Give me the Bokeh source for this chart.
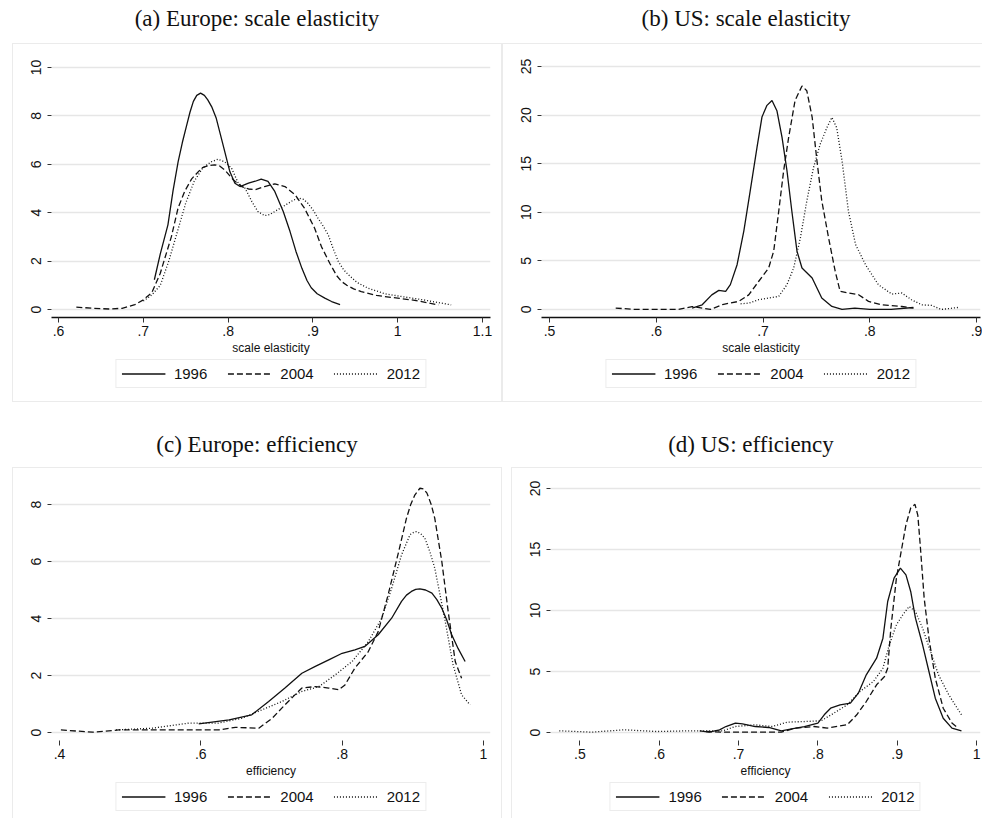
from bokeh.plotting import figure
from bokeh.models import Legend, LegendItem, FixedTicker, Range1d, Div
from bokeh.layouts import column, row
from bokeh.embed import file_html
from bokeh.resources import INLINE

years = ["1996", "2004", "2012"]

# ---------------- (a) Europe: scale elasticity ----------------
a_x_1996 = [0.713, 0.720, 0.729, 0.735, 0.741, 0.746, 0.751, 0.755, 0.759, 0.763, 0.7675, 0.772, 0.776, 0.781,
            0.786, 0.794, 0.802, 0.808, 0.814, 0.824, 0.832, 0.839, 0.847, 0.855, 0.865, 0.873, 0.880,
            0.887, 0.893, 0.898, 0.905, 0.914, 0.922, 0.932]
a_y_1996 = [1.23, 2.3, 3.5, 4.9, 6.1, 6.9, 7.6, 8.15, 8.6, 8.85, 8.94, 8.85, 8.66, 8.35,
            7.9, 6.8, 5.7, 5.22, 5.08, 5.22, 5.3, 5.39, 5.29, 4.88, 4.05, 3.22, 2.4,
            1.7, 1.2, 0.9, 0.65, 0.47, 0.33, 0.2]
a_x_2004 = [0.621, 0.64, 0.66, 0.675, 0.69, 0.70, 0.71, 0.72, 0.733, 0.741, 0.749, 0.757, 0.769, 0.777,
            0.784, 0.790, 0.796, 0.806, 0.816, 0.824, 0.832, 0.843, 0.855, 0.867, 0.879, 0.890, 0.902,
            0.910, 0.920, 0.928, 0.934, 0.940, 0.948, 0.957, 0.975, 1.0, 1.02, 1.048]
a_y_2004 = [0.1, 0.05, 0.02, 0.05, 0.2, 0.4, 0.7, 1.5, 3.0, 4.2, 4.9, 5.4, 5.85, 5.95,
            5.98, 5.93, 5.77, 5.36, 5.08, 4.98, 4.95, 5.08, 5.19, 5.08, 4.74, 4.19, 3.36,
            2.6, 1.9, 1.4, 1.15, 1.0, 0.85, 0.74, 0.58, 0.47, 0.38, 0.19]
a_x_2012 = [0.70, 0.71, 0.72, 0.73, 0.74, 0.75, 0.76, 0.77, 0.78, 0.788, 0.796, 0.804, 0.812, 0.820, 0.828,
            0.835, 0.843, 0.849, 0.855, 0.863, 0.871, 0.877, 0.883, 0.889, 0.894, 0.900, 0.906, 0.912,
            0.918, 0.924, 0.930, 0.936, 0.942, 0.952, 0.965, 0.985, 1.004, 1.03, 1.063]
a_y_2012 = [0.35, 0.6, 1.0, 2.0, 3.2, 4.4, 5.3, 5.85, 6.1, 6.21, 6.1, 5.84, 5.22, 5.01, 4.46,
            4.05, 3.88, 3.92, 4.05, 4.22, 4.39, 4.52, 4.6, 4.55, 4.39, 4.12, 3.77, 3.45,
            3.09, 2.5, 1.98, 1.65, 1.43, 1.12, 0.88, 0.65, 0.54, 0.4, 0.19]
a_xticks = [0.6, 0.7, 0.8, 0.9, 1.0, 1.1]
a_xlabels = [".6", ".7", ".8", ".9", "1", "1.1"]
a_yticks = [0, 2, 4, 6, 8, 10]
a_ylabels = ["0", "2", "4", "6", "8", "10"]

# ---------------- (b) US: scale elasticity ----------------
b_x_1996 = [0.6336, 0.643, 0.652, 0.6586, 0.665, 0.6694, 0.6757, 0.682, 0.688, 0.6944, 0.699, 0.7037,
            0.7084, 0.713, 0.7178, 0.7224, 0.727, 0.7318, 0.7365, 0.746, 0.755, 0.7645, 0.774, 0.786,
            0.80, 0.82, 0.8408]
b_y_1996 = [0.14, 0.48, 1.5, 1.96, 1.86, 2.55, 4.6, 8.06, 12.2, 16.7, 19.8, 21.0,
            21.5, 20.45, 17.7, 14.3, 10.1, 6.0, 4.27, 3.24, 1.17, 0.31, 0.0, 0.14,
            0.0, 0.0, 0.2]
b_x_2004 = [0.562, 0.58, 0.60, 0.621, 0.6336, 0.6508, 0.662, 0.6773, 0.6866, 0.696, 0.7053, 0.71,
            0.7147, 0.7193, 0.724, 0.730, 0.7365, 0.741, 0.746, 0.7505, 0.755, 0.7614, 0.7676,
            0.7722, 0.780, 0.7895, 0.7988, 0.811, 0.83, 0.841]
b_y_2004 = [0.14, 0.0, 0.0, 0.0, 0.3, 0.0, 0.5, 0.83, 1.5, 2.9, 4.27, 6.0,
            10.1, 14.26, 17.7, 21.5, 23.0, 22.5, 19.8, 15.3, 11.2, 7.37, 3.93,
            1.86, 1.69, 1.52, 0.83, 0.48, 0.3, 0.14]
b_x_2012 = [0.679, 0.6866, 0.696, 0.7053, 0.7147, 0.7224, 0.7287, 0.735, 0.741, 0.7473, 0.7535, 0.7598,
            0.7645, 0.769, 0.774, 0.780, 0.7867, 0.796, 0.808, 0.8206, 0.830, 0.839, 0.8486, 0.858,
            0.867, 0.8827]
b_y_2012 = [0.58, 0.65, 1.0, 1.17, 1.34, 2.55, 4.27, 7.37, 11.16, 14.6, 17.0, 18.7,
            19.76, 18.7, 15.3, 10.1, 6.68, 4.6, 2.55, 1.58, 1.69, 1.0, 0.48, 0.41,
            0.0, 0.2]
b_xticks = [0.5, 0.6, 0.7, 0.8, 0.9]
b_xlabels = [".5", ".6", ".7", ".8", ".9"]
b_yticks = [0, 5, 10, 15, 20, 25]
b_ylabels = ["0", "5", "10", "15", "20", "25"]

# ---------------- (c) Europe: efficiency ----------------
c_x_1996 = [0.597, 0.640, 0.672, 0.696, 0.719, 0.743, 0.762, 0.781, 0.800, 0.818, 0.832, 0.851, 0.870,
            0.884, 0.891, 0.898, 0.904, 0.910, 0.918, 0.927, 0.934, 0.941, 0.948, 0.955, 0.964, 0.974]
c_y_1996 = [0.30, 0.44, 0.62, 1.09, 1.56, 2.08, 2.32, 2.55, 2.78, 2.9, 3.02, 3.43, 4.01,
            4.6, 4.82, 4.95, 5.02, 5.04, 5.0, 4.89, 4.66, 4.36, 3.95, 3.43, 2.95, 2.49]
c_x_2004 = [0.402, 0.447, 0.484, 0.531, 0.578, 0.625, 0.649, 0.682, 0.701, 0.719, 0.743, 0.762, 0.781,
            0.795, 0.804, 0.818, 0.837, 0.851, 0.865, 0.880, 0.891, 0.897, 0.903, 0.910, 0.915, 0.920,
            0.926, 0.931, 0.941, 0.950, 0.960, 0.969]
c_y_2004 = [0.09, 0.01, 0.09, 0.09, 0.09, 0.09, 0.18, 0.15, 0.5, 0.97, 1.56, 1.61, 1.56,
            1.5, 1.67, 2.26, 2.84, 3.54, 4.83, 6.35, 7.52, 8.0, 8.34, 8.57, 8.55, 8.4,
            8.0, 7.52, 6.0, 4.25, 2.49, 1.9]
c_x_2012 = [0.480, 0.531, 0.583, 0.625, 0.658, 0.687, 0.715, 0.743, 0.767, 0.790, 0.814, 0.837, 0.856,
            0.870, 0.884, 0.896, 0.901, 0.905, 0.911, 0.917, 0.924, 0.931, 0.945, 0.957, 0.969, 0.981]
c_y_2012 = [0.09, 0.15, 0.33, 0.33, 0.5, 0.8, 1.09, 1.44, 1.61, 2.02, 2.49, 3.19, 4.01,
            5.06, 6.23, 6.94, 7.02, 7.05, 6.98, 6.82, 6.35, 5.77, 4.01, 2.37, 1.32, 0.97]
c_xticks = [0.4, 0.6, 0.8, 1.0]
c_xlabels = [".4", ".6", ".8", "1"]
c_yticks = [0, 2, 4, 6, 8]
c_ylabels = ["0", "2", "4", "6", "8"]

# ---------------- (d) US: efficiency ----------------
d_x_1996 = [0.651, 0.663, 0.676, 0.684, 0.696, 0.705, 0.721, 0.738, 0.754, 0.767, 0.783, 0.800, 0.808,
            0.816, 0.828, 0.841, 0.851, 0.861, 0.874, 0.882, 0.888, 0.896, 0.904, 0.911, 0.917, 0.923,
            0.932, 0.940, 0.948, 0.958, 0.969, 0.981]
d_y_1996 = [0.14, 0.03, 0.22, 0.49, 0.77, 0.71, 0.49, 0.41, 0.14, 0.3, 0.49, 0.77, 1.45,
            1.99, 2.27, 2.4, 3.22, 4.73, 6.09, 7.73, 10.74, 12.65, 13.47, 12.92, 11.56, 9.37,
            7.19, 5.0, 2.81, 1.17, 0.36, 0.14]
d_x_2004 = [0.659, 0.680, 0.721, 0.754, 0.771, 0.795, 0.812, 0.828, 0.837, 0.849, 0.861, 0.874, 0.884,
            0.888, 0.892, 0.899, 0.905, 0.911, 0.917, 0.9224, 0.926, 0.929, 0.934, 0.940, 0.948, 0.958,
            0.969, 0.977]
d_y_2004 = [0.08, 0.03, 0.03, 0.03, 0.36, 0.49, 0.36, 0.55, 0.63, 1.45, 2.54, 3.91, 4.59,
            5.27, 8.55, 12.65, 14.84, 17.02, 18.4, 18.7, 17.8, 15.38, 11.01, 7.73, 4.45, 1.99,
            0.77, 0.36]
d_x_2012 = [0.474, 0.515, 0.556, 0.597, 0.639, 0.680, 0.696, 0.721, 0.742, 0.762, 0.783, 0.804, 0.820,
            0.837, 0.853, 0.870, 0.882, 0.890, 0.899, 0.907, 0.915, 0.923, 0.932, 0.942, 0.952,
            0.965, 0.981]
d_y_2012 = [0.14, 0.03, 0.22, 0.08, 0.14, 0.14, 0.49, 0.63, 0.49, 0.85, 0.9, 0.96, 1.58,
            2.27, 3.36, 4.18, 5.27, 7.19, 8.83, 9.64, 10.33, 9.92, 8.55, 6.64, 4.73,
            3.09, 1.45]
d_xticks = [0.5, 0.6, 0.7, 0.8, 0.9, 1.0]
d_xlabels = [".5", ".6", ".7", ".8", ".9", "1"]
d_yticks = [0, 5, 10, 15, 20]
d_ylabels = ["0", "5", "10", "15", "20"]

DASHES = ["solid", "6 3", "1 2"]
SANS = "Liberation Sans"
SERIF = "Liberation Serif"
INK = "#111111"
FRAME = "1px solid #ebebeb"


def make_title(title, w, h, pad_top, pad_left, margin_left):
    return Div(text=('<div style="width:%dpx;text-align:center;font-family:\'%s\';font-size:23px;'
                     'color:#111;padding-top:%dpx;padding-left:%dpx;box-sizing:border-box;'
                     'line-height:23px;white-space:nowrap;">%s</div>') % (w, SERIF, pad_top, pad_left, title),
               width=w, height=h, margin=(0, 0, 0, margin_left))


def border_styles(sides):
    return {"border-" + s: FRAME for s in sides}


def make_panel(series_x, series_y, xlabel, xticks, xlabels, yticks, ylabels,
               xr, yr, w, h, leg_h, mb_right, x_line, margin_left, right_border, bottom_border):
    sides = ["top", "left"] + (["right"] if right_border else [])
    p = figure(width=w, height=h, output_backend="svg", toolbar_location=None,
               x_range=Range1d(*xr), y_range=Range1d(*yr),
               min_border_left=38, min_border_right=mb_right, min_border_top=15,
               min_border_bottom=41, margin=(0, 0, 0, margin_left), styles=border_styles(sides))
    p.outline_line_color = None
    p.background_fill_color = "white"
    p.border_fill_color = "white"

    for xs, ys, dash in zip(series_x, series_y, DASHES):
        p.line(xs, ys, line_color=INK, line_width=1.3, line_dash=dash)

    p.xaxis.ticker = FixedTicker(ticks=xticks)
    p.yaxis.ticker = FixedTicker(ticks=yticks)
    p.xaxis.major_label_overrides = {t: s for t, s in zip(xticks, xlabels)}
    p.yaxis.major_label_overrides = {t: s for t, s in zip(yticks, ylabels)}

    p.xgrid.visible = False
    p.ygrid.grid_line_color = "#e6e6e6"
    p.ygrid.grid_line_width = 1.5

    for ax in (p.xaxis[0], p.yaxis[0]):
        ax.minor_tick_line_color = None
        ax.major_tick_in = 0
        ax.major_tick_line_color = "#333333"
        ax.major_label_text_font = SANS
        ax.major_label_text_font_size = "14px"
        ax.major_label_text_color = INK
    p.xaxis.major_tick_out = 5
    p.xaxis.major_label_standoff = 3
    p.xaxis.axis_label = xlabel
    p.xaxis.axis_label_text_font = SANS
    p.xaxis.axis_label_text_font_size = "12px"
    p.xaxis.axis_label_text_font_style = "normal"
    p.xaxis.axis_label_text_color = INK
    p.xaxis.axis_label_standoff = 2
    if x_line:
        p.xaxis.axis_line_color = INK
        p.xaxis.axis_line_width = 1.3
    else:
        p.xaxis.axis_line_color = None
    p.yaxis.axis_line_color = None
    p.yaxis.major_tick_out = 4
    p.yaxis.major_label_standoff = 6
    p.yaxis.major_label_orientation = "vertical"

    # legend strip underneath, inside the same panel frame; its key lines reuse the
    # series but sit outside this strip's visible y range, so only the legend shows
    lsides = ["left"] + (["right"] if right_border else []) + (["bottom"] if bottom_border else [])
    lf = figure(width=w, height=leg_h, output_backend="svg", toolbar_location=None,
                x_range=Range1d(*xr), y_range=Range1d(-100, -99),
                x_axis_type=None, y_axis_type=None,
                min_border_left=38, min_border_right=mb_right, min_border_top=0, min_border_bottom=0,
                margin=(0, 0, 0, margin_left), styles=border_styles(lsides))
    lf.outline_line_color = None
    lf.background_fill_color = "white"
    lf.border_fill_color = "white"
    keys = [lf.line(xs, ys, line_color=INK, line_width=1.3, line_dash=dash)
            for xs, ys, dash in zip(series_x, series_y, DASHES)]
    items = [LegendItem(label=y, renderers=[r]) for y, r in zip(years, keys)]
    legend = Legend(items=items, orientation="horizontal", location="top_center",
                    border_line_color="#d9d9d9", border_line_width=1,
                    label_text_font=SANS, label_text_font_size="15px", label_text_color=INK,
                    glyph_width=44, glyph_height=15, label_height=15, label_standoff=9,
                    spacing=20, padding=5, margin=2, background_fill_color="white")
    lf.add_layout(legend)
    return column(p, lf)


ta = make_title("(a) Europe: scale elasticity", 490, 43, 7, 0, 12)
tb = make_title("(b) US: scale elasticity", 480, 43, 7, 8, 0)
tc = make_title("(c) Europe: efficiency", 490, 65, 31, 0, 12)
td = make_title("(d) US: efficiency", 471, 65, 31, 9, 9)

fa = make_panel([a_x_1996, a_x_2004, a_x_2012], [a_y_1996, a_y_2004, a_y_2012], "scale elasticity",
                a_xticks, a_xlabels, a_yticks, a_ylabels,
                (0.5917, 1.1094), (-0.33, 10.33), 490, 314, 45, 13, True, 12, True, True)
fb = make_panel([b_x_1996, b_x_2004, b_x_2012], [b_y_1996, b_y_2004, b_y_2012], "scale elasticity",
                b_xticks, b_xlabels, b_yticks, b_ylabels,
                (0.4925, 0.9037), (-0.83, 25.72), 480, 314, 45, 3, True, 0, False, True)
fc = make_panel([c_x_1996, c_x_2004, c_x_2012], [c_y_1996, c_y_2004, c_y_2012], "efficiency",
                c_xticks, c_xlabels, c_yticks, c_ylabels,
                (0.3887, 1.0099), (-0.281, 8.737), 490, 313, 38, 13, False, 12, True, False)
fd = make_panel([d_x_1996, d_x_2004, d_x_2012], [d_y_1996, d_y_2004, d_y_2012], "efficiency",
                d_xticks, d_xlabels, d_yticks, d_ylabels,
                (0.4629, 1.005), (-0.656, 20.41), 471, 313, 38, 3, False, 9, False, False)

layout = column(row(column(ta, fa), column(tb, fb)), row(column(tc, fc), column(td, fd)))

with open("out.html", "w") as f:
    f.write(file_html(layout, INLINE))
